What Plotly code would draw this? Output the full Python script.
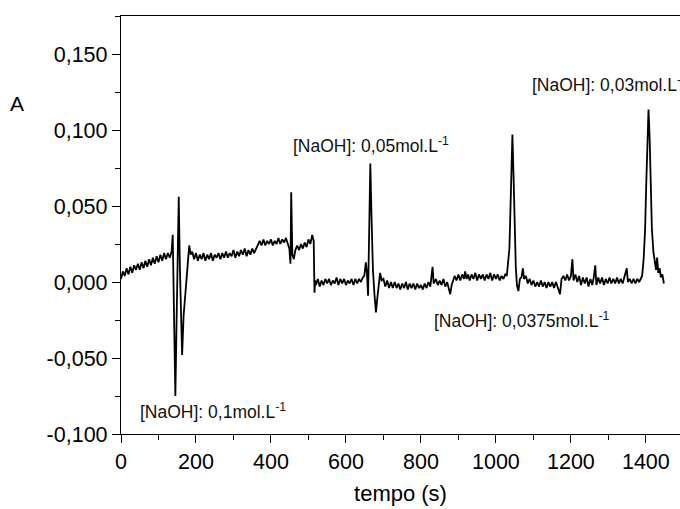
import plotly.graph_objects as go

# ---- data ----
tempo = [
    0, 5, 10, 15, 20, 25, 30, 35, 40, 45, 50, 55, 60, 65, 70, 75, 80, 85, 90, 95,
    100, 105, 110, 115, 120, 125, 130, 135,
    138, 141, 145, 148, 151, 154, 157, 160, 163, 167, 172, 178, 182, 186,
    190, 195, 200, 205, 210, 215, 220, 225, 230, 235, 240, 245, 250, 255, 260,
    265, 270, 275, 280, 285, 290, 295, 300, 305, 310, 315, 320, 325, 330, 335,
    340, 345, 350, 355, 360,
    365, 370, 375, 380, 385, 390, 395, 400, 405, 410, 415, 420, 425, 430, 435,
    440, 445,
    449, 452, 454, 457, 461, 465,
    470, 475, 480, 485, 490, 495, 500, 505, 510, 514,
    516, 518,
    520, 525, 530, 535, 540, 545, 550, 555, 560, 565, 570, 575, 580, 585, 590,
    595, 600, 605, 610, 615, 620, 625, 630, 635, 640, 645,
    649, 653, 656, 659, 662, 665, 668, 672, 676, 680, 684, 688, 691, 695,
    700, 705, 710, 715, 720, 725, 730, 735, 740, 745, 750, 755, 760, 765, 770,
    775, 780, 785, 790, 795, 800, 805, 810, 815, 820, 825,
    831, 834,
    840, 845, 850, 855, 860, 865, 870, 875, 878, 882, 886,
    890, 895, 900, 905, 910, 915, 918, 922, 926, 930, 935, 940, 945, 950, 955,
    960, 965, 970, 975, 980, 985, 990, 995, 1000, 1005, 1010, 1015, 1020, 1025,
    1029, 1033, 1036, 1039, 1042, 1044, 1047, 1050, 1053, 1056, 1060, 1064,
    1068, 1072, 1075, 1080,
    1085, 1090, 1095, 1100, 1105, 1110, 1115, 1120, 1125, 1130, 1135, 1140,
    1145, 1150, 1155, 1160, 1165, 1171, 1175,
    1180, 1185, 1190, 1195, 1200, 1204, 1207, 1212, 1217, 1222, 1227, 1232,
    1237, 1242, 1247, 1252, 1257, 1261, 1265, 1268, 1273, 1278, 1283, 1288,
    1293, 1298, 1303, 1308, 1313, 1318, 1323, 1328, 1333, 1338, 1343, 1349,
    1352, 1357, 1362, 1367, 1372, 1377, 1382, 1386,
    1390, 1394, 1398, 1401, 1404, 1407, 1410, 1413, 1416, 1420, 1424, 1427,
    1430, 1433, 1437, 1440, 1444, 1448,
]

absorbancia = [
    0.002, 0.007, 0.004, 0.009, 0.005, 0.010, 0.006, 0.011, 0.008, 0.012,
    0.008, 0.013, 0.009, 0.014, 0.010, 0.015, 0.011, 0.016, 0.012, 0.017,
    0.013, 0.018, 0.014, 0.019, 0.015, 0.019, 0.016, 0.020,
    0.031, -0.005, -0.075, -0.030, 0.020, 0.056, 0.010, -0.030, -0.048,
    -0.022, -0.005, 0.012, 0.024, 0.018,
    0.020, 0.015, 0.019, 0.014, 0.018, 0.015, 0.019, 0.014, 0.018, 0.015,
    0.019, 0.014, 0.018, 0.016, 0.019,
    0.015, 0.019, 0.016, 0.020, 0.016, 0.019, 0.017, 0.021, 0.016, 0.020,
    0.017, 0.021, 0.018, 0.022, 0.017, 0.021, 0.018, 0.022, 0.019, 0.022,
    0.024, 0.027, 0.024, 0.028, 0.024, 0.027, 0.025, 0.028, 0.024, 0.027,
    0.025, 0.029, 0.025, 0.028, 0.026, 0.029, 0.025,
    0.022, 0.012, 0.059, 0.018, 0.015, 0.021,
    0.024, 0.021, 0.025, 0.022, 0.026, 0.023, 0.028, 0.025, 0.031, 0.027,
    -0.007, 0.001,
    -0.002, 0.002, -0.003, 0.001, -0.002, 0.002, -0.001, 0.002, -0.002, 0.001,
    -0.001, 0.003, -0.002, 0.002, -0.001, 0.002, -0.002, 0.001, -0.001, 0.002,
    -0.002, 0.002, -0.001, 0.002, 0.000, 0.003,
    0.004, 0.013, 0.006, -0.009, 0.035, 0.078, 0.045, 0.008, -0.008, -0.020,
    -0.010, 0.001, 0.006, 0.001,
    0.002, -0.003, 0.001, -0.004, 0.000, -0.004, 0.000, -0.004, -0.001, -0.005,
    -0.001, -0.004, 0.000, -0.005, -0.001, -0.004, -0.001, -0.005, -0.001,
    -0.004, -0.002, -0.005, -0.001, -0.004, 0.000, -0.003,
    0.010, -0.001,
    0.002, -0.002, 0.001, -0.002, 0.002, -0.003, 0.000, -0.005, -0.008,
    -0.002, 0.002,
    0.004, 0.001, 0.005, 0.001, 0.005, 0.002, 0.007, 0.002, 0.005, 0.001,
    0.005, 0.002, 0.006, 0.001, 0.005, 0.002, 0.005, 0.001, 0.005, 0.002,
    0.006, 0.001, 0.005, 0.002, 0.005, 0.001, 0.004, 0.002, 0.005,
    0.004, 0.015, 0.022, 0.050, 0.088, 0.097, 0.070, 0.035, 0.010, -0.002,
    -0.006, 0.002, 0.003, 0.009, 0.002, 0.004,
    -0.001, 0.002, -0.002, 0.001, -0.003, 0.000, -0.003, 0.001, -0.003, 0.000,
    -0.004, 0.000, -0.003, 0.000, -0.004, 0.000, -0.004, -0.008, 0.002,
    0.004, 0.001, 0.005, 0.001, 0.004, 0.015, 0.001, 0.005, 0.000, 0.004,
    -0.002, 0.003, -0.001, 0.003, -0.003, 0.002, -0.002, 0.003, 0.011, -0.002,
    0.003, -0.001, 0.003, -0.002, 0.002, -0.001, 0.003, -0.001, 0.002, -0.001,
    0.003, -0.001, 0.002, -0.001, 0.003, 0.009, 0.000, 0.002, -0.001, 0.002,
    -0.001, 0.002, 0.000, 0.002,
    0.004, 0.015, 0.035, 0.065, 0.100, 0.1135, 0.095, 0.062, 0.035, 0.020,
    0.013, 0.008, 0.016, 0.006, 0.009, 0.003, 0.005, -0.001,
]

y_tickvals = [-0.100, -0.050, 0.000, 0.050, 0.100, 0.150]
y_ticktext = ["-0,100", "-0,050", "0,000", "0,050", "0,100", "0,150"]
x_tickvals = [0, 200, 400, 600, 800, 1000, 1200, 1400]

note_text = [
    "[NaOH]: 0,1mol.L<sup>-1</sup>",
    "[NaOH]: 0,05mol.L<sup>-1</sup>",
    "[NaOH]: 0,0375mol.L<sup>-1</sup>",
    "[NaOH]: 0,03mol.L<sup>-1</sup>",
]
note_x = [44, 454, 829, 1090]
note_y = [-0.0851, 0.0903, -0.0253, 0.1305]

FONT = "Liberation Sans, Arial, Helvetica, sans-serif"

fig = go.Figure()
fig.add_trace(go.Scatter(
    x=tempo, y=absorbancia, mode="lines",
    line=dict(color="black", width=1.8),
    showlegend=False, hoverinfo="skip",
))

for txt, xv, yv in zip(note_text, note_x, note_y):
    fig.add_annotation(
        x=xv, y=yv, xref="x", yref="y", text=txt, showarrow=False,
        xanchor="left", yanchor="middle",
        font=dict(family=FONT, size=17.5, color="#111111"),
    )

# y-axis title "A" (horizontal, upper left)
fig.add_annotation(
    x=-0.1854, y=0.1173, xref="paper", yref="y", text="A", showarrow=False,
    xanchor="center", yanchor="middle",
    font=dict(family=FONT, size=21, color="black"),
)

fig.update_layout(
    width=680, height=509, autosize=False,
    margin=dict(l=121, r=0, t=16, b=75, pad=0),
    paper_bgcolor="white", plot_bgcolor="white",
    font=dict(family=FONT, color="black"),
    showlegend=False,
)

fig.update_xaxes(
    range=[0, 1491], showgrid=False, zeroline=False,
    showline=True, linecolor="black", linewidth=1.3, mirror=True,
    ticks="outside", ticklen=8, tickwidth=1.2, tickcolor="black",
    tickvals=x_tickvals,
    tickfont=dict(family=FONT, size=21.5, color="black"),
    minor=dict(ticks="outside", ticklen=5, tickwidth=1.2, tickcolor="black", dtick=100, tick0=0, showgrid=False),
    title=dict(text="tempo (s)", font=dict(family=FONT, size=22, color="black"), standoff=12),
)

fig.update_yaxes(
    range=[-0.100, 0.175], showgrid=False, zeroline=False,
    showline=True, linecolor="black", linewidth=1.3,
    ticks="outside", ticklen=8, tickwidth=1.2, tickcolor="black",
    tickvals=y_tickvals, ticktext=y_ticktext,
    tickfont=dict(family=FONT, size=21.5, color="black"),
    minor=dict(ticks="outside", ticklen=5, tickwidth=1.2, tickcolor="black", dtick=0.025, tick0=0, showgrid=False),
)

fig.write_html("out.html")
